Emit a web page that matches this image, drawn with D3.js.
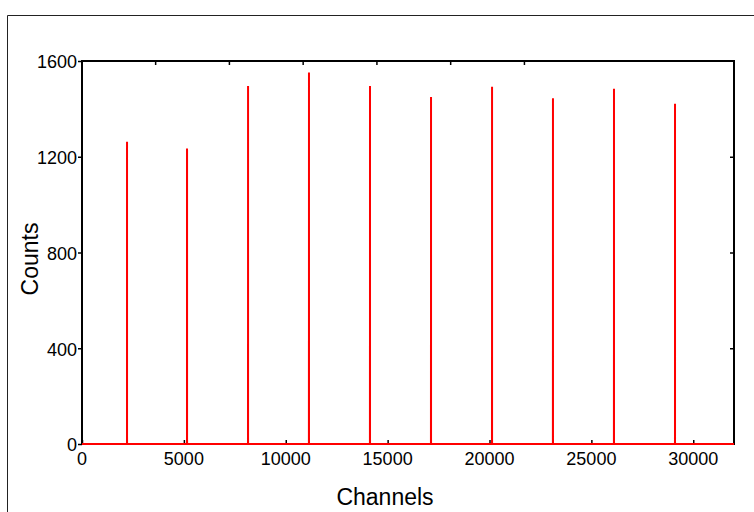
<!DOCTYPE html>
<html>
<head>
<meta charset="utf-8">
<script src="https://cdn.jsdelivr.net/npm/d3@7"></script>
<style>
  html, body { margin: 0; padding: 0; background: #fff; }
  svg { display: block; }
  text { font-family: "Liberation Sans", Arial, sans-serif; fill: #000; }
</style>
</head>
<body>
<svg id="chart" width="754" height="512"></svg>
<script>
// Spectrum: counts per channel, only non-zero neighbourhoods of each peak listed
const peakChannels = [2210, 5155, 8150, 11140, 14135, 17130, 20125, 23115, 26110, 29105];
// counts at channels (peak - 3) ... (peak + 3)
const peakProfiles = [
  [0, 0, 35, 1263, 28, 0, 0],
  [0, 20, 1234, 1186, 1230, 15, 0],
  [0, 418, 292, 1496, 30, 0, 0],
  [0, 430, 297, 1552, 25, 0, 0],
  [0, 409, 309, 1496, 22, 0, 0],
  [0, 414, 305, 1450, 20, 0, 0],
  [0, 363, 305, 1492, 18, 0, 0],
  [0, 388, 334, 1444, 16, 0, 0],
  [0, 372, 364, 1484, 14, 0, 0],
  [0, 20, 30, 1421, 12, 0, 0]
];
const channelRange = [0, 32000];
const countRange = [0, 1600];
const xTickValues = [0, 5000, 10000, 15000, 20000, 25000, 30000];
const yTickValues = [0, 400, 800, 1200, 1600];
const topTickValues = [3590, 7210, 10830, 14450, 18070, 21690];

const svg = d3.select("#chart");
const plot = { left: 82, right: 734, top: 61, bottom: 444 };

// outer frame
svg.append("path")
  .attr("d", "M7.5,512 V15.5 H754")
  .attr("fill", "none")
  .attr("stroke", "#222")
  .attr("stroke-width", 1);

const x = d3.scaleLinear().domain(channelRange).range([plot.left, plot.right]);
const y = d3.scaleLinear().domain(countRange).range([plot.bottom, plot.top]);

// build the series point list
const points = [[channelRange[0], 0]];
peakChannels.forEach((c, k) => {
  peakProfiles[k].forEach((v, i) => points.push([c - 3 + i, v]));
});
points.push([channelRange[1], 0]);

// axes
const axisG = svg.append("g");

const leftAxis = axisG.append("g")
  .attr("transform", `translate(${plot.left},0)`)
  .call(d3.axisLeft(y).tickValues(yTickValues).tickSize(4).tickPadding(1).tickFormat(d3.format("d")));
leftAxis.selectAll("text").attr("font-size", 18).attr("dy", "0.38em")
  .attr("font-family", "'Liberation Sans', Arial, sans-serif");

axisG.append("g")
  .attr("transform", `translate(${plot.right},0)`)
  .call(d3.axisLeft(y).tickValues(yTickValues.slice(1, -1)).tickSize(4).tickFormat(""));

axisG.append("g")
  .attr("transform", `translate(0,${plot.bottom})`)
  .call(d3.axisTop(x).tickValues(xTickValues).tickSize(4).tickFormat(""));

axisG.append("g")
  .selectAll("text")
  .data(xTickValues)
  .join("text")
  .attr("x", d => x(d))
  .attr("y", plot.bottom + 21)
  .attr("text-anchor", "middle")
  .attr("font-size", 18)
  .text(d3.format("d"));

axisG.append("g")
  .attr("transform", `translate(0,${plot.top})`)
  .call(d3.axisBottom(x).tickValues(topTickValues).tickSize(4).tickFormat(""));

axisG.selectAll(".domain").remove();
axisG.selectAll(".tick line").attr("stroke", "#000").attr("stroke-width", 1.5);

// plot frame
svg.append("rect")
  .attr("x", plot.left).attr("y", plot.top)
  .attr("width", plot.right - plot.left)
  .attr("height", plot.bottom - plot.top)
  .attr("fill", "none")
  .attr("stroke", "#000")
  .attr("stroke-width", 2);

// spectrum line
svg.append("path")
  .datum(points)
  .attr("fill", "none")
  .attr("stroke", "#ff0000")
  .attr("stroke-width", 2)
  .attr("d", d3.line().x(d => x(d[0])).y(d => y(d[1])));

// axis titles
svg.append("text")
  .attr("x", 385).attr("y", 505)
  .attr("text-anchor", "middle")
  .attr("font-size", 23)
  .text("Channels");

svg.append("text")
  .attr("transform", "translate(38,259) rotate(-90)")
  .attr("text-anchor", "middle")
  .attr("font-size", 23)
  .text("Counts");
</script>
</body>
</html>
